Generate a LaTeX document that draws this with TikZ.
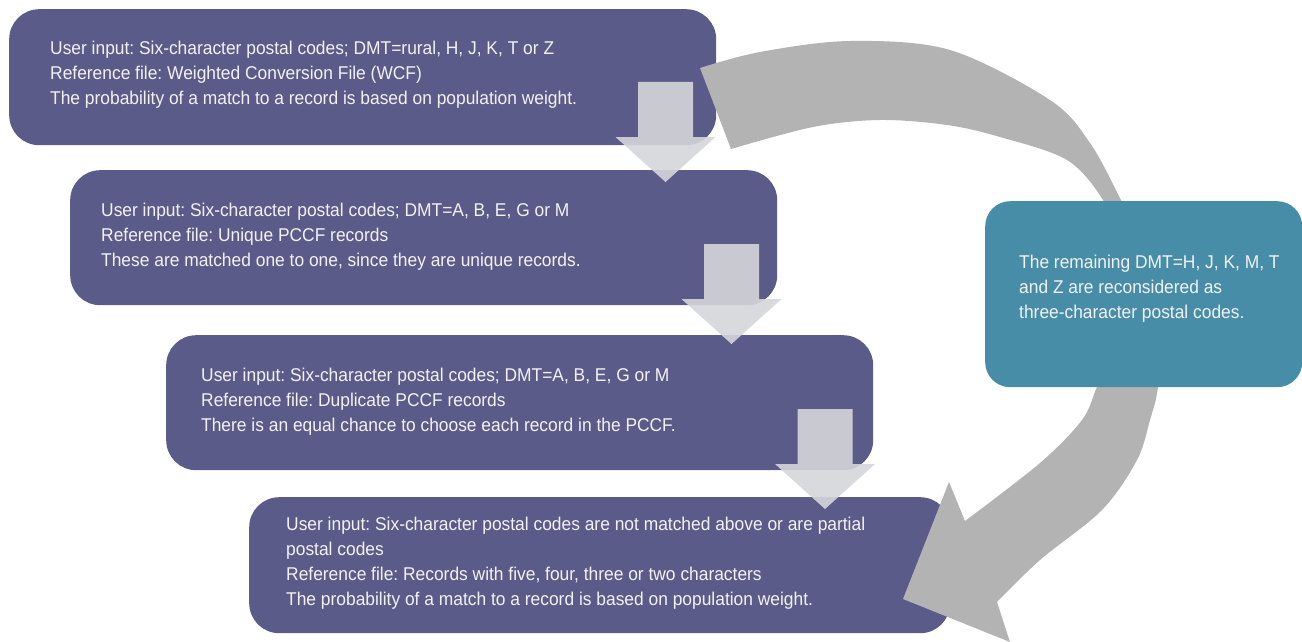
\documentclass[tikz,border=0pt]{standalone}
\usepackage{fontspec}
\setmainfont{Liberation Sans}[FakeStretch=0.94]
\frenchspacing
\begin{document}
\begin{tikzpicture}[x=1pt,y=-1pt,
  pbox/.style={fill=boxpurple, rounded corners=30pt, inner sep=0pt, anchor=north west},
  tbox/.style={fill=boxteal, rounded corners=25pt, inner sep=0pt, anchor=north west},
  txt/.style={inner sep=0pt, anchor=base west, text=textwhite, font=\fontsize{18.5}{25}\selectfont\frenchspacing},
  downarr/.style={fill=arrlight, fill opacity=0.9},
  bigarr/.style={fill=arrgray},
  pics/downarrow/.style={code={
    \fill[downarr] (-27.5,0) -- (27.5,0) -- (27.5,55) -- (50,55) -- (0,100) -- (-50,55) -- (-27.5,55) -- cycle;
  }}
]
\definecolor{boxpurple}{RGB}{91,91,137}
\definecolor{boxteal}{RGB}{71,141,168}
\definecolor{textwhite}{RGB}{242,242,245}
\definecolor{arrlight}{RGB}{213,214,218}
\definecolor{arrgray}{RGB}{179,179,179}
\useasboundingbox (0,0) rectangle (1302,642);

% boxes
\node[pbox, minimum width=707pt, minimum height=136pt] (b1) at (9,9) {};
\node[pbox, minimum width=707pt, minimum height=135pt] (b2) at (70,170) {};
\node[pbox, minimum width=707pt, minimum height=135pt] (b3) at (166,335) {};
\node[pbox, minimum width=701pt, minimum height=136pt] (b4) at (249,497) {};

% texts
\node[txt] (t1) at ([xshift=41pt,yshift=-46pt]b1.north west) {\begin{tabular}[t]{@{}l@{}}User input: Six-character postal codes; DMT=rural, H, J, K, T or Z\\Reference file: Weighted Conversion File (WCF)\\The probability of a match to a record is based on population weight.\end{tabular}};
\node[txt] (t2) at ([xshift=31pt,yshift=-46pt]b2.north west) {\begin{tabular}[t]{@{}l@{}}User input: Six-character postal codes; DMT=A, B, E, G or M\\Reference file: Unique PCCF records\\These are matched one to one, since they are unique records.\end{tabular}};
\node[txt] (t3) at ([xshift=35pt,yshift=-46pt]b3.north west) {\begin{tabular}[t]{@{}l@{}}User input: Six-character postal codes; DMT=A, B, E, G or M\\Reference file: Duplicate PCCF records\\There is an equal chance to choose each record in the PCCF.\end{tabular}};
\node[txt] (t4) at ([xshift=37pt,yshift=-33.5pt]b4.north west) {\begin{tabular}[t]{@{}l@{}}User input: Six-character postal codes are not matched above or are partial\\postal codes\\Reference file: Records with five, four, three or two characters\\The probability of a match to a record is based on population weight.\end{tabular}};

% down arrows
\coordinate (d1) at (665.5,82);
\coordinate (d2) at (731.5,244);
\coordinate (d3) at (825,409);
\pic at (d1) {downarrow};
\pic at (d2) {downarrow};
\pic at (d3) {downarrow};

% big curved arrow
\fill[bigarr] plot[smooth, tension=0.55] coordinates {(700,68) (760,52) (850,41) (950,50) (1050,100) (1090,143) (1122,202) (1150,260) (1163,320) (1158,387) (1150,420) (1137,460) (1102,510) (1040,560) (997,602)}
  -- (1010,642) -- (903,599) -- (949,482)
  -- plot[smooth, tension=0.55] coordinates {(965,521) (1040,463) (1082,420) (1097,387) (1118,340) (1125,290) (1118,240) (1103,200) (1067,160) (1000,137) (947,125) (880,120) (813,127) (731,149)}
  -- cycle;

% teal box
\node[tbox, minimum width=317pt, minimum height=186pt] (tb) at (985,201) {};
\node[txt] (tt) at ([xshift=34pt,yshift=-67pt]tb.north west) {\begin{tabular}[t]{@{}l@{}}The remaining DMT=H, J, K, M, T\\and Z are reconsidered as\\three-character postal codes.\end{tabular}};
\end{tikzpicture}
\end{document}
